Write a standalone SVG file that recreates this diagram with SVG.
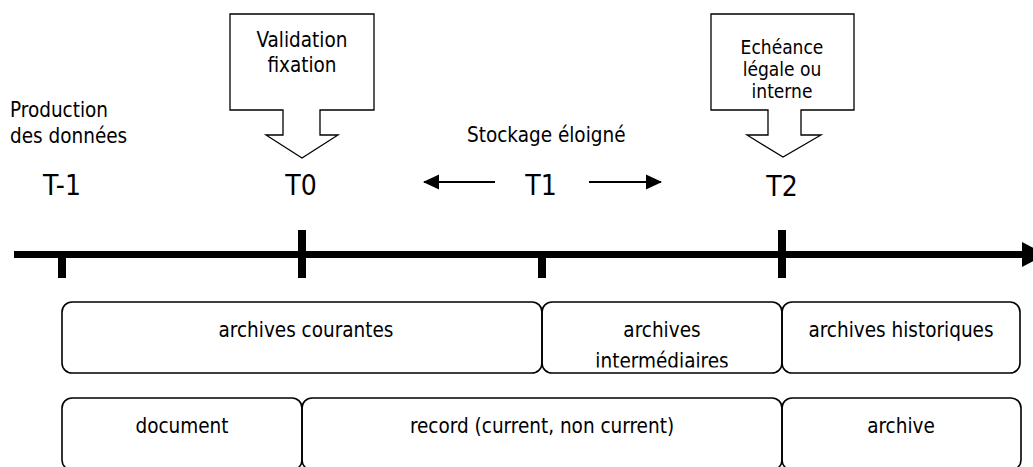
<svg xmlns="http://www.w3.org/2000/svg" width="1033" height="467" viewBox="0 0 1033 467">
<style>
text{font-family:"DejaVu Sans Condensed","DejaVu Sans",sans-serif;font-stretch:condensed;fill:#000}
.t{font-size:20.5px}
.s{font-size:19px}
.tl{font-size:28px;text-anchor:middle}
.c{text-anchor:middle}
.call{fill:#fff;stroke:#000;stroke-width:1.3}
.box{fill:none;stroke:#000;stroke-width:1.6}
.axis{stroke:#000;stroke-width:7;fill:none}
.tick{stroke:#000;stroke-width:8;fill:none}
.arr{stroke:#000;stroke-width:2;fill:none}
</style>
<defs>
<marker id="ah" markerWidth="16" markerHeight="16" refX="15" refY="8" orient="auto" markerUnits="userSpaceOnUse">
<path d="M0,0.5 L16,8 L0,15.5 Z" fill="#000"/>
</marker>
<clipPath id="clipInter"><rect x="542" y="302" width="240" height="65.5"/></clipPath>
</defs>
<g id="connectors">
<line class="axis" x1="14" y1="254.5" x2="1024" y2="254.5"/>
<polygon points="1022,242 1046,254.5 1022,267" fill="#000"/>
<line class="tick" x1="62" y1="254" x2="62" y2="278"/>
<line class="tick" x1="302" y1="230" x2="302" y2="278"/>
<line class="tick" x1="542" y1="254" x2="542" y2="278"/>
<line class="tick" x1="782" y1="230" x2="782" y2="278"/>
<line class="arr" x1="495" y1="182" x2="424" y2="182" marker-end="url(#ah)"/>
<line class="arr" x1="589" y1="182" x2="661" y2="182" marker-end="url(#ah)"/>
</g>
<g id="production">
<text class="t" x="10" y="117">Production</text>
<text class="t" x="10" y="143">des données</text>
</g>
<g id="callout-t0">
<path class="call" d="M230,14 H374 V110 H320 V135 H338 L302,158 L266,135 H283 V110 H230 Z"/>
<text class="t c" x="302" y="47">Validation</text>
<text class="t c" x="302" y="72">fixation</text>
</g>
<g id="callout-t2">
<path class="call" d="M711,14 H854 V110 H801 V135 H821 L783,157 L747,135 H768 V110 H711 Z"/>
<text class="s c" x="782" y="54">Echéance</text>
<text class="s c" x="782" y="76">légale ou</text>
<text class="s c" x="782" y="98">interne</text>
</g>
<g id="stockage">
<text class="t" x="467" y="142">Stockage éloigné</text>
</g>
<g id="labels">
<text class="tl" x="62" y="195">T-1</text>
<text class="tl" x="301" y="195">T0</text>
<text class="tl" x="541" y="195">T1</text>
<text class="tl" x="782" y="196">T2</text>
</g>
<g id="archives-courantes">
<rect class="box" x="62" y="302" width="480" height="71" rx="10"/>
<text class="t c" x="306" y="337">archives courantes</text>
</g>
<g id="archives-intermediaires">
<rect class="box" x="542" y="302" width="240" height="71" rx="10"/>
<text class="t c" x="662" y="337">archives</text>
<text class="t c" x="662" y="368" clip-path="url(#clipInter)">intermédiaires</text>
</g>
<g id="archives-historiques">
<rect class="box" x="782" y="302" width="238" height="71" rx="10"/>
<text class="t c" x="901" y="337">archives historiques</text>
</g>
<g id="document">
<rect class="box" x="62" y="398" width="240" height="72" rx="10"/>
<text class="t c" x="182" y="433">document</text>
</g>
<g id="record">
<rect class="box" x="302" y="398" width="480" height="72" rx="10"/>
<text class="t c" x="542" y="433">record (current, non current)</text>
</g>
<g id="archive">
<rect class="box" x="782" y="398" width="239" height="72" rx="10"/>
<text class="t c" x="901" y="433">archive</text>
</g>
</svg>
